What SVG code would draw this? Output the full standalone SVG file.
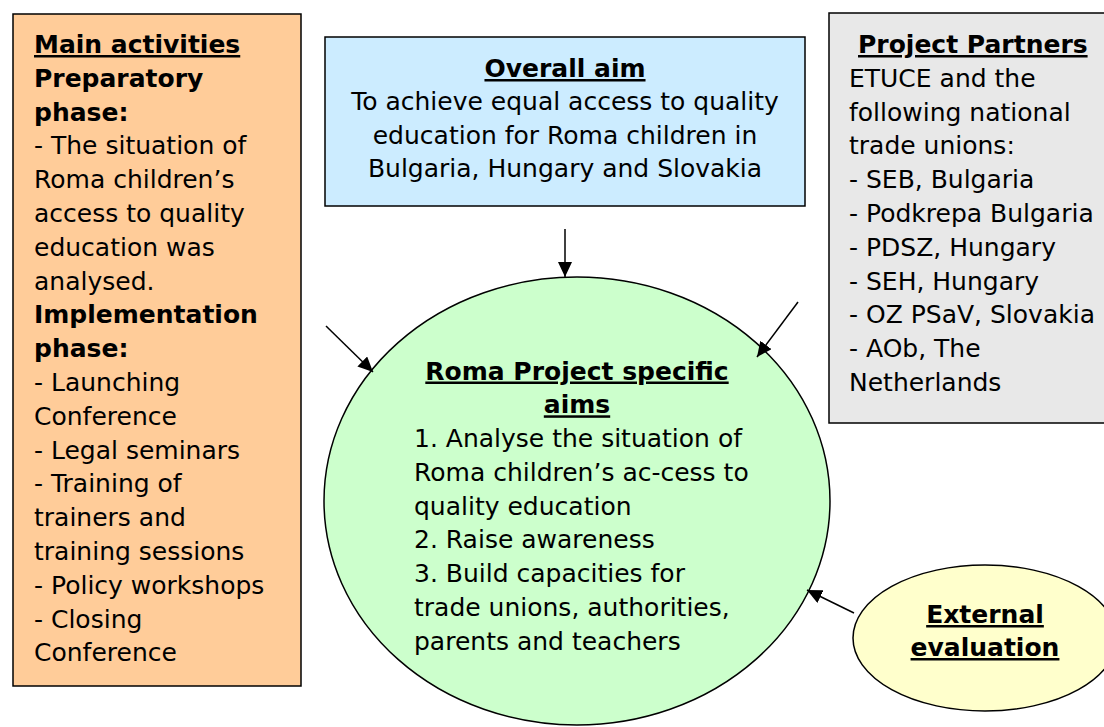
<svg xmlns="http://www.w3.org/2000/svg" width="1104" height="727" viewBox="0 0 1104 727">
<style>
text{font-family:"DejaVu Sans","Verdana",sans-serif;font-size:25px;fill:#000}
.b{font-weight:bold}
.u{text-decoration:underline}
.c{text-anchor:middle}
.box{stroke:#000;stroke-width:1.5}
.conn{stroke:#000;stroke-width:1.5;fill:none}
</style>
<defs>
<marker id="ah" markerUnits="userSpaceOnUse" markerWidth="16" markerHeight="14" refX="15" refY="7" orient="auto">
<path d="M0,0 L15,7 L0,14 Z" fill="#000"/>
</marker>
</defs>
<g id="activities">
<rect class="box" x="13" y="14" width="288" height="672" fill="#FFCC99"/>
<text x="34" y="53" class="b u">Main activities</text>
<text x="34" y="87" class="b">Preparatory</text>
<text x="34" y="120.5" class="b">phase:</text>
<text x="34" y="154.3">- The situation of</text>
<text x="34" y="188">Roma children’s</text>
<text x="34" y="222">access to quality</text>
<text x="34" y="255.7">education was</text>
<text x="34" y="289.5">analysed.</text>
<text x="34" y="323.3" class="b">Implementation</text>
<text x="34" y="357" class="b">phase:</text>
<text x="34" y="391">- Launching</text>
<text x="34" y="424.7">Conference</text>
<text x="34" y="458.5">- Legal seminars</text>
<text x="34" y="492.3">- Training of</text>
<text x="34" y="526">trainers and</text>
<text x="34" y="560">training sessions</text>
<text x="34" y="593.7">- Policy workshops</text>
<text x="34" y="627.5">- Closing</text>
<text x="34" y="661.3">Conference</text>
</g>
<g id="overall-aim">
<rect class="box" x="325" y="37" width="480" height="169" fill="#CCECFF"/>
<text x="565" y="77" class="b u c">Overall aim</text>
<text x="565" y="110.3" class="c">To achieve equal access to quality</text>
<text x="565" y="143.7" class="c">education for Roma children in</text>
<text x="565" y="177" class="c">Bulgaria, Hungary and Slovakia</text>
</g>
<g id="partners">
<rect class="box" x="829" y="13" width="300" height="410" fill="#E8E8E8"/>
<text x="858" y="53" class="b u">Project Partners</text>
<text x="849" y="87">ETUCE and the</text>
<text x="849" y="120.6">following national</text>
<text x="849" y="154.4">trade unions:</text>
<text x="849" y="188.2">- SEB, Bulgaria</text>
<text x="849" y="222">- Podkrepa Bulgaria</text>
<text x="849" y="255.8">- PDSZ, Hungary</text>
<text x="849" y="289.6">- SEH, Hungary</text>
<text x="849" y="323.4">- OZ PSaV, Slovakia</text>
<text x="849" y="357.2">- AOb, The</text>
<text x="849" y="391">Netherlands</text>
</g>
<g id="specific-aims">
<ellipse class="box" cx="577" cy="501" rx="253" ry="224" fill="#CCFFCC"/>
<text x="577" y="379.5" class="b u c">Roma Project specific</text>
<text x="577" y="413.3" class="b u c">aims</text>
<text x="414" y="447">1. Analyse the situation of</text>
<text x="414" y="480.8">Roma children’s ac-cess to</text>
<text x="414" y="514.6">quality education</text>
<text x="414" y="548.4">2. Raise awareness</text>
<text x="414" y="582.2">3. Build capacities for</text>
<text x="414" y="616">trade unions, authorities,</text>
<text x="414" y="649.8">parents and teachers</text>
</g>
<g id="external-evaluation">
<ellipse class="box" cx="985" cy="638" rx="132" ry="73" fill="#FFFFCC"/>
<text x="985" y="623" class="b u c">External</text>
<text x="985" y="656" class="b u c">evaluation</text>
</g>
<g id="connectors">
<line class="conn" x1="565" y1="229" x2="565" y2="277" marker-end="url(#ah)"/>
<line class="conn" x1="326" y1="326" x2="373" y2="372" marker-end="url(#ah)"/>
<line class="conn" x1="798" y1="302" x2="757" y2="357" marker-end="url(#ah)"/>
<line class="conn" x1="854" y1="613" x2="807" y2="590" marker-end="url(#ah)"/>
</g>
</svg>
